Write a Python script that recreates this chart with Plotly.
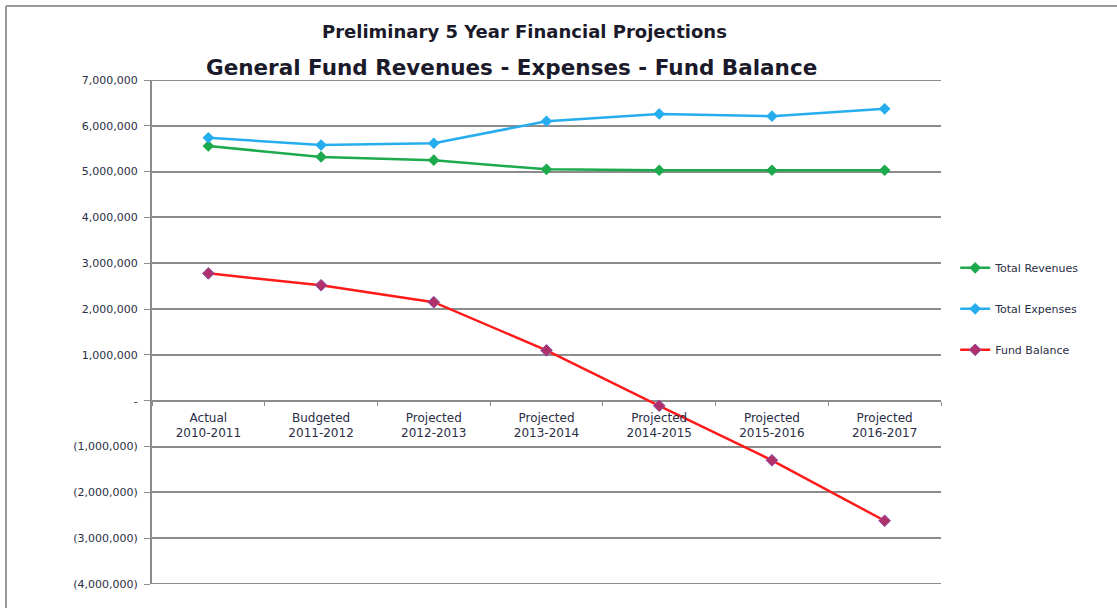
import plotly.graph_objects as go

categories = ["Actual<br>2010-2011", "Budgeted<br>2011-2012", "Projected<br>2012-2013",
              "Projected<br>2013-2014", "Projected<br>2014-2015", "Projected<br>2015-2016",
              "Projected<br>2016-2017"]
total_revenues = [5560000, 5320000, 5250000, 5050000, 5030000, 5030000, 5030000]
total_expenses = [5740000, 5580000, 5620000, 6100000, 6260000, 6210000, 6370000]
fund_balance = [2780000, 2520000, 2150000, 1100000, -110000, -1300000, -2620000]

y_tickvals = [7e6, 6e6, 5e6, 4e6, 3e6, 2e6, 1e6, 0, -1e6, -2e6, -3e6, -4e6]
y_ticktext = ["7,000,000", "6,000,000", "5,000,000", "4,000,000", "3,000,000", "2,000,000",
              "1,000,000", "-", "(1,000,000)", "(2,000,000)", "(3,000,000)", "(4,000,000)"]

FONT = "DejaVu Sans"
TXT = "#2a2d45"
GRID = "#8c8c8c"
fig = go.Figure()
fig.add_trace(go.Scatter(x=categories, y=total_revenues, name="Total Revenues", legendgroup="a",
                         mode="lines+markers", line=dict(color="#1DAA4C", width=2.5),
                         marker=dict(symbol="diamond", size=9, color="#1DAA4C")))
fig.add_trace(go.Scatter(x=categories, y=total_expenses, name="Total Expenses", legendgroup="b",
                         mode="lines+markers", line=dict(color="#25ADEE", width=2.5),
                         marker=dict(symbol="diamond", size=9, color="#25ADEE")))
fig.add_trace(go.Scatter(x=categories, y=fund_balance, name="Fund Balance", legendgroup="c",
                         mode="lines+markers", line=dict(color="#FF1A1A", width=2.5),
                         marker=dict(symbol="diamond", size=9, color="#B0306A",
                                     line=dict(color="#8A4FA8", width=1))))

PH = 504
PW = 789
edge_lines = [dict(type="line", xref="paper", yref="y", x0=0, x1=1, y0=v, y1=v,
                   line=dict(color=GRID, width=2), layer="below")
              for v in (max(y_tickvals), min(y_tickvals))]

fig.update_layout(
    width=1117, height=608,
    margin=dict(l=152, r=176, t=80, b=24),
    paper_bgcolor="white", plot_bgcolor="white",
    font=dict(family=FONT, color=TXT),
    showlegend=True,
    legend=dict(x=1.018, y=0.546, xanchor="left", yanchor="middle",
                font=dict(size=11, family=FONT, color=TXT),
                tracegroupgap=22, bgcolor="rgba(0,0,0,0)"),
    xaxis=dict(type="category", anchor="free", position=4/11,
               showgrid=False, showline=False, zeroline=False,
               ticks="outside", tickson="boundaries", ticklen=4, tickcolor=GRID,
               ticklabelstandoff=8,
               tickfont=dict(size=12, family=FONT, color=TXT),
               range=[-0.5, 6.5]),
    yaxis=dict(range=[-4e6, 7e6], tickvals=y_tickvals, ticktext=y_ticktext,
               showgrid=True, gridcolor=GRID, gridwidth=2,
               showline=True, linecolor=GRID, linewidth=2,
               ticks="outside", ticklen=6, tickcolor=GRID,
               ticklabelstandoff=4,
               zeroline=False, automargin=False,
               tickfont=dict(size=11, family=FONT, color=TXT)),
    annotations=[
        dict(text="<b>Preliminary 5 Year Financial Projections</b>", x=(524 - 152) / PW,
             y=1 + (80 - 32) / PH,
             xref="paper", yref="paper", showarrow=False, xanchor="center", yanchor="middle",
             font=dict(size=18, family=FONT, color="#1a1a2a")),
        dict(text="<b>General Fund Revenues - Expenses - Fund Balance</b>", x=(511 - 152) / PW,
             y=1 + (80 - 67) / PH,
             xref="paper", yref="paper", showarrow=False, xanchor="center", yanchor="middle",
             font=dict(size=21.5, family=FONT, color="#1a1a2a")),
    ],
    shapes=[
        dict(type="line", xref="paper", yref="paper", x0=-146 / PW, x1=-146 / PW,
             y0=-0.2, y1=1 + 74 / PH, line=dict(color="#9a9a9a", width=2)),
        dict(type="line", xref="paper", yref="paper", x0=-146 / PW, x1=1.3,
             y0=1 + 74 / PH, y1=1 + 74 / PH, line=dict(color="#9a9a9a", width=2)),
    ] + edge_lines,
)

fig.write_html("out.html", config={"displayModeBar": False},
               post_script="document.body.style.margin='0';")
